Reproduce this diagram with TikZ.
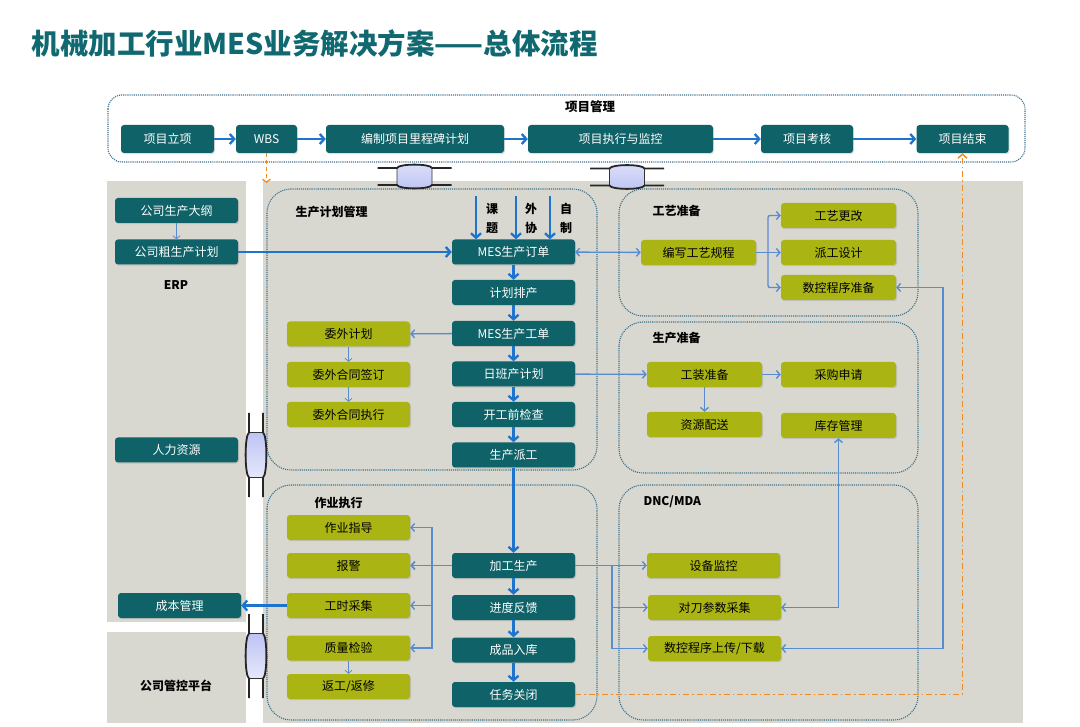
\documentclass[tikz,border=0pt]{standalone}
\usepackage{fontspec}
\setmainfont{Noto Sans CJK SC}
\usetikzlibrary{arrows.meta,shadows}

\definecolor{boxteal}{RGB}{14,98,104}
\definecolor{boxolive}{RGB}{170,180,18}
\definecolor{panelgrey}{RGB}{216,216,208}
\definecolor{grpline}{RGB}{62,112,140}
\definecolor{flowblue}{RGB}{30,116,204}
\definecolor{linkblue}{RGB}{88,140,208}
\definecolor{titleteal}{RGB}{16,104,112}
\definecolor{dashorange}{RGB}{240,140,40}
\definecolor{flangefill}{RGB}{190,196,244}

\tikzset{
  hflange/.pic={
    \path[top color=flangefill!55!white, bottom color=flangefill, draw=black!80, line width=0.6pt]
      (-17.5,-8.5) .. controls (-16,-13) and (16,-13) .. (17.5,-8.5) -- (17.5,8.5)
      .. controls (16,13) and (-16,13) .. (-17.5,8.5) -- cycle;
    \draw[black!85, line width=1.8pt] (-37,-8.5) -- (-17.5,-8.5)
      .. controls (-16,-13) and (16,-13) .. (17.5,-8.5) -- (37,-8.5);
    \draw[black!85, line width=1.8pt] (-37,8.5) -- (-17.5,8.5)
      .. controls (-16,13) and (16,13) .. (17.5,8.5) -- (37,8.5);
  },
  vflange/.pic={
    \path[top color=flangefill, bottom color=flangefill!40!white, draw=black!80, line width=0.6pt]
      (-7,-22.5) .. controls (-11.5,-20) and (-11.5,20) .. (-7,22.5) -- (7,22.5)
      .. controls (11.5,20) and (11.5,-20) .. (7,-22.5) -- cycle;
    \draw[black!85, line width=1.8pt] (-7,-42) -- (-7,-22.5)
      .. controls (-11.5,-20) and (-11.5,20) .. (-7,22.5) -- (-7,42);
    \draw[black!85, line width=1.8pt] (7,-42) -- (7,-22.5)
      .. controls (11.5,-20) and (11.5,20) .. (7,22.5) -- (7,42);
  },
}

\begin{document}
\begin{tikzpicture}[
  x=1pt, y=-1pt,
  tbox/.style={fill=boxteal, text=white, rounded corners=3pt, minimum width=123pt,
               minimum height=25pt, inner sep=0pt, font=\fontsize{12}{14}\selectfont,
               drop shadow={opacity=0.25, shadow xshift=1pt, shadow yshift=-1.2pt}},
  obox/.style={tbox, fill=boxolive, text=black},
  grp/.style={draw=grpline, densely dotted, line width=1.1pt, rounded corners=24pt},
  grptitle/.style={anchor=west, font=\fontsize{12}{14}\selectfont\bfseries},
  arr/.style={->, draw=flowblue, line width=2.3pt, >={Straight Barb[length=4.5pt,width=10pt]}},
  thinarr/.style={->, draw=linkblue, line width=1.4pt, >={Straight Barb[length=3.5pt,width=8pt]}},
  hairarr/.style={->, draw=linkblue, line width=0.8pt, >={Straight Barb[length=3pt,width=7pt]}},
]
  \useasboundingbox (0,0) rectangle (1080,727);

  \node[anchor=west, text=titleteal, font=\fontsize{28.5}{32}\selectfont\bfseries] (title) at (28,44)
    {机械加工行业MES业务解决方案——总体流程};

  % panels
  \fill[panelgrey] (107,181) rectangle (246,622);
  \fill[panelgrey] (107,632) rectangle (246,723);
  \fill[panelgrey] (263,181) rectangle (1023,723);

  % project management
  \draw[grp, fill=white, rounded corners=14pt] (108,95) rectangle (1025,162);
  \node[font=\fontsize{12.5}{14}\selectfont\bfseries] (pmtitle) at (590,107) {项目管理};
  \node[tbox, minimum width=93pt, minimum height=28pt] (start) at (167.5,139) {项目立项};
  \node[tbox, minimum width=61pt, minimum height=28pt] (wbs) at (266.5,139) {WBS};
  \node[tbox, minimum width=178pt, minimum height=28pt] (milestone) at (415,139) {编制项目里程碑计划};
  \node[tbox, minimum width=185pt, minimum height=28pt] (monitor) at (620.5,139) {项目执行与监控};
  \node[tbox, minimum width=92pt, minimum height=28pt] (review) at (807,139) {项目考核};
  \node[tbox, minimum width=92pt, minimum height=28pt] (close) at (962.5,139) {项目结束};

  % groups
  \draw[grp] (267,189) rectangle (597,470);
  \draw[grp] (619,189) rectangle (918,316);
  \draw[grp] (619,322) rectangle (918,473);
  \draw[grp] (267,485) rectangle (597,720);
  \draw[grp] (619,485) rectangle (918,720);
  \node[grptitle] (plantitle) at (292,212) {生产计划管理};
  \node[grptitle] (crafttitle) at (649,211) {工艺准备};
  \node[grptitle] (preptitle) at (649,338) {生产准备};
  \node[grptitle] (exectitle) at (311,503) {作业执行};
  \node[grptitle] (dnctitle) at (640,502) {DNC/MDA};

  \pic at (414.5,176.5) {hflange};
  \pic at (627,177) {hflange};
  \pic at (256,455) {vflange};
  \pic at (256,656) {vflange};

  % ERP side
  \node[tbox] (outline) at (176.5,210.5) {公司生产大纲};
  \node[tbox] (roughplan) at (176.5,252) {公司粗生产计划};
  \node[font=\fontsize{12}{14}\selectfont\bfseries] (erp) at (176,285) {ERP};
  \node[tbox] (hr) at (176.5,450) {人力资源};
  \node[tbox] (cost) at (179.5,605.5) {成本管理};
  \node[font=\fontsize{12}{14}\selectfont\bfseries] (platform) at (176,686) {公司管控平台};

  % planning
  \node[tbox] (order) at (513.5,252) {MES生产订单};
  \node[tbox] (schedule) at (513.5,292.5) {计划排产};
  \node[tbox] (workorder) at (513.5,333.5) {MES生产工单};
  \node[tbox] (dayplan) at (513.5,374) {日班产计划};
  \node[tbox] (check) at (513.5,414.5) {开工前检查};
  \node[tbox] (dispatch) at (513.5,455) {生产派工};
  \node[obox] (outplan) at (348.5,334) {委外计划};
  \node[obox] (outsign) at (348.5,374.5) {委外合同签订};
  \node[obox] (outexec) at (348.5,414.5) {委外合同执行};
  \coordinate (inkt) at (476,196);
  \coordinate (inwx) at (516,196);
  \coordinate (inzz) at (550,196);
  \node[font=\fontsize{12}{19}\selectfont\bfseries, align=center] (lblkt) at (492,218) {课\\题};
  \node[font=\fontsize{12}{19}\selectfont\bfseries, align=center] (lblwx) at (531,218) {外\\协};
  \node[font=\fontsize{12}{19}\selectfont\bfseries, align=center] (lblzz) at (566,218) {自\\制};

  % craft and preparation
  \node[obox, minimum width=115pt] (procwrite) at (698.5,252.5) {编写工艺规程};
  \node[obox, minimum width=115pt] (procchange) at (838.5,215.5) {工艺更改};
  \node[obox, minimum width=115pt] (dispdesign) at (838.5,252.5) {派工设计};
  \node[obox, minimum width=115pt] (ncprep) at (838.5,287.5) {数控程序准备};
  \node[obox, minimum width=115pt] (tooling) at (704.5,374.5) {工装准备};
  \node[obox, minimum width=115pt] (purchase) at (838.5,374.5) {采购申请};
  \node[obox, minimum width=115pt] (deliver) at (704.5,424.5) {资源配送};
  \node[obox, minimum width=115pt] (stock) at (838.5,425.5) {库存管理};

  % execution
  \node[tbox] (machining) at (513.5,565.5) {加工生产};
  \node[tbox] (feedback) at (513.5,607.5) {进度反馈};
  \node[tbox] (storage) at (513.5,650) {成品入库};
  \node[tbox] (taskclose) at (513.5,694.5) {任务关闭};
  \node[obox] (guide) at (348.5,527.5) {作业指导};
  \node[obox] (alarm) at (348.5,565.5) {报警};
  \node[obox] (hours) at (348.5,605.5) {工时采集};
  \node[obox] (quality) at (348.5,648) {质量检验};
  \node[obox] (rework) at (348.5,686.5) {返工/返修};
  \node[obox, minimum width=133pt] (devmon) at (713.5,565.5) {设备监控};
  \node[obox, minimum width=133pt] (toolparam) at (714.5,607.5) {对刀参数采集};
  \node[obox, minimum width=133pt] (ncload) at (714.5,648.5) {数控程序上传/下载};

  % connectors
  \draw[arr] (start) -- (wbs);
  \draw[arr] (wbs) -- (milestone);
  \draw[arr] (milestone) -- (monitor);
  \draw[arr] (monitor) -- (review);
  \draw[arr] (review) -- (close);
  \coordinate (wbsend) at (266.5,183);
  \draw[->, dashorange, dash pattern=on 4pt off 3pt, line width=1.3pt, >={Straight Barb[length=3pt,width=8pt]}] (wbs.south) -- (wbsend);

  \draw[hairarr] (outline) -- (roughplan);
  \draw[arr] (roughplan) -- (order);
  \draw[arr] (inkt) -- (inkt |- order.north);
  \draw[arr] (inwx) -- (inwx |- order.north);
  \draw[arr] (inzz) -- (inzz |- order.north);
  \draw[arr] (order) -- (schedule);
  \draw[arr] (schedule) -- (workorder);
  \draw[arr] (workorder) -- (dayplan);
  \draw[arr] (dayplan) -- (check);
  \draw[arr] (check) -- (dispatch);
  \draw[thinarr] (workorder) -- (outplan);
  \draw[hairarr] (outplan) -- (outsign);
  \draw[hairarr] (outsign) -- (outexec);

  \draw[thinarr, <->] (order) -- (procwrite);
  \coordinate (craftsplit) at (768,252.5);
  \draw[thinarr, -] (procwrite) -- (craftsplit);
  \draw[thinarr, rounded corners=2pt] (craftsplit) |- (procchange);
  \draw[thinarr] (craftsplit) -- (dispdesign);
  \draw[thinarr, rounded corners=2pt] (craftsplit) |- (ncprep);
  \draw[thinarr] (dayplan) -- (tooling);
  \draw[thinarr] (tooling) -- (purchase);
  \draw[thinarr] (tooling) -- (deliver);

  \draw[arr] (dispatch) -- (machining);
  \draw[arr] (machining) -- (feedback);
  \draw[arr] (feedback) -- (storage);
  \draw[arr] (storage) -- (taskclose);
  \coordinate (execsplit) at (432,565.5);
  \draw[thinarr, line width=1.8pt] (machining) -- (alarm);
  \draw[thinarr] (execsplit) |- (guide);
  \draw[thinarr] (execsplit) |- (hours);
  \draw[thinarr] (execsplit) |- (quality);
  \draw[hairarr] (quality) -- (rework);
  \draw[arr] (hours) -- (cost);

  \coordinate (dncsplit) at (612,565.5);
  \draw[thinarr] (machining) -- (devmon);
  \draw[thinarr] (dncsplit) |- (toolparam);
  \draw[thinarr] (dncsplit) |- (ncload);
  \draw[thinarr, <->] (toolparam.east) -| (stock.south);
  \coordinate (ncloop) at (943,648.5);
  \draw[thinarr, <->] (ncload.east) -- (ncloop) |- (ncprep.east);
  \draw[->, dashorange, dash pattern=on 6pt off 3pt on 1.5pt off 3pt, line width=1.5pt,
        >={Straight Barb[length=4pt,width=9pt]}] (taskclose.east) -| (close.south);
\end{tikzpicture}
\end{document}
